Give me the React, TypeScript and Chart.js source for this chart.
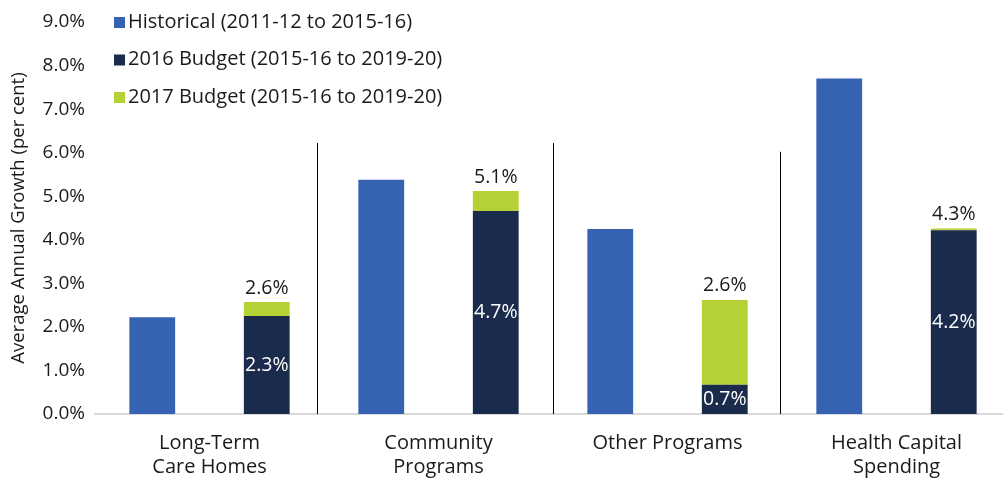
import React, { useEffect, useRef } from 'react';
import { Chart, registerables } from 'chart.js';
Chart.register(...registerables);

const categories = [['Long-Term', 'Care Homes'], ['Community', 'Programs'], ['Other Programs'], ['Health Capital', 'Spending']];
const historical = [2.22, 5.38, 4.25, 7.7];
const budget2016 = [2.25, 4.66, 0.67, 4.22];
const budget2017 = [2.57, 5.12, 2.62, 4.26];
const yTicks = [0, 1, 2, 3, 4, 5, 6, 7, 8, 9];
const seriesNames = ['Historical (2011-12 to 2015-16)', '2016 Budget (2015-16 to 2019-20)', '2017 Budget (2015-16 to 2019-20)'];
const seriesColors = ['#3563B1', '#1B2B4B', '#B4D235'];
const separatorAt = [0.47, 1.5, 2.49];
const separatorTops = [6.22, 6.22, 6.02];
const yTitle = 'Average Annual Growth (per cent)';

const FONT = '"Open Sans", "Noto Sans", sans-serif';
const TEXT = '#1a1a1a';

export default function App() {
  const ref = useRef<HTMLCanvasElement | null>(null);
  useEffect(() => {
    if (!ref.current) return;
    const increment = budget2017.map((v, i) => Math.max(0, v - budget2016[i]));

    const overlay = {
      id: 'overlay',
      afterDatasetsDraw(chart: any) {
        const { ctx, chartArea, scales } = chart;
        const xs = scales.x, ys = scales.y;
        ctx.save();
        // separators
        ctx.strokeStyle = '#000';
        ctx.lineWidth = 1;
        separatorAt.forEach((pos, i) => {
          const xp = Math.round(xs.getPixelForDecimal((pos + 0.5) / categories.length)) + 0.5;
          ctx.beginPath();
          ctx.moveTo(xp, ys.getPixelForValue(separatorTops[i]));
          ctx.lineTo(xp, ys.getPixelForValue(0));
          ctx.stroke();
        });
        // labels
        ctx.font = `19.5px ${FONT}`;
        ctx.textAlign = 'center';
        ctx.textBaseline = 'middle';
        const m2016 = chart.getDatasetMeta(1);
        const m2017 = chart.getDatasetMeta(2);
        budget2016.forEach((v, i) => {
          const el = m2016.data[i];
          ctx.fillStyle = '#ffffff';
          ctx.fillText(v.toFixed(1) + '%', el.x, (el.y + el.base) / 2);
        });
        budget2017.forEach((v, i) => {
          const el = m2017.data[i];
          ctx.fillStyle = TEXT;
          ctx.fillText(v.toFixed(1) + '%', el.x, ys.getPixelForValue(v) - 14);
        });
        // legend
        ctx.font = `20px ${FONT}`;
        ctx.textAlign = 'left';
        seriesNames.forEach((name, i) => {
          const cy = chartArea.top + 0 + i * 37.5;
          const sx = chartArea.left + 19;
          ctx.fillStyle = seriesColors[i];
          ctx.fillRect(sx, cy - 5, 11, 11);
          ctx.fillStyle = TEXT;
          ctx.fillText(name, sx + 14, cy);
        });
        ctx.restore();
      },
    };

    const chart = new Chart(ref.current, {
      type: 'bar',
      data: {
        labels: categories,
        datasets: [
          { label: seriesNames[0], data: historical, backgroundColor: seriesColors[0], stack: 'a' },
          { label: seriesNames[1], data: budget2016, backgroundColor: seriesColors[1], stack: 'b' },
          { label: seriesNames[2], data: increment, backgroundColor: seriesColors[2], stack: 'b' },
        ],
      },
      options: {
        responsive: false,
        animation: false,
        devicePixelRatio: 1,
        layout: { padding: { top: 22, right: 2, left: 0, bottom: 0 } },
        datasets: { bar: { categoryPercentage: 1, barPercentage: 0.4 } },
        plugins: { legend: { display: false }, tooltip: { enabled: false } },
        scales: {
          x: {
            stacked: true,
            grid: { display: false, drawTicks: false },
            border: { display: true, color: '#d9d9d9', width: 2 },
            ticks: { font: { family: FONT, size: 20, lineHeight: 1.2 }, color: TEXT, padding: 17, maxRotation: 0, autoSkip: false },
            afterFit: (s: any) => { s.height = 66; },
          },
          y: {
            stacked: true,
            min: 0,
            max: 9,
            afterBuildTicks: (s: any) => { s.ticks = yTicks.map((v) => ({ value: v })); },
            grid: { display: false, drawTicks: false },
            border: { display: false },
            ticks: { font: { family: FONT, size: 19 }, color: TEXT, padding: 10, callback: (v: any) => Number(v).toFixed(1) + '%' },
            title: { display: true, text: yTitle, font: { family: FONT, size: 18.5 }, color: TEXT, padding: { top: 8, bottom: 0 } },
            afterFit: (s: any) => { s.width = 95; },
          },
        },
      },
      plugins: [overlay],
    });
    return () => chart.destroy();
  }, []);

  return (
    <div style={{ position: 'absolute', left: 0, top: 0, width: 1003, height: 480, overflow: 'hidden', background: '#fff' }}>
      <canvas ref={ref} width={1013} height={480} style={{ display: 'block' }} />
    </div>
  );
}
